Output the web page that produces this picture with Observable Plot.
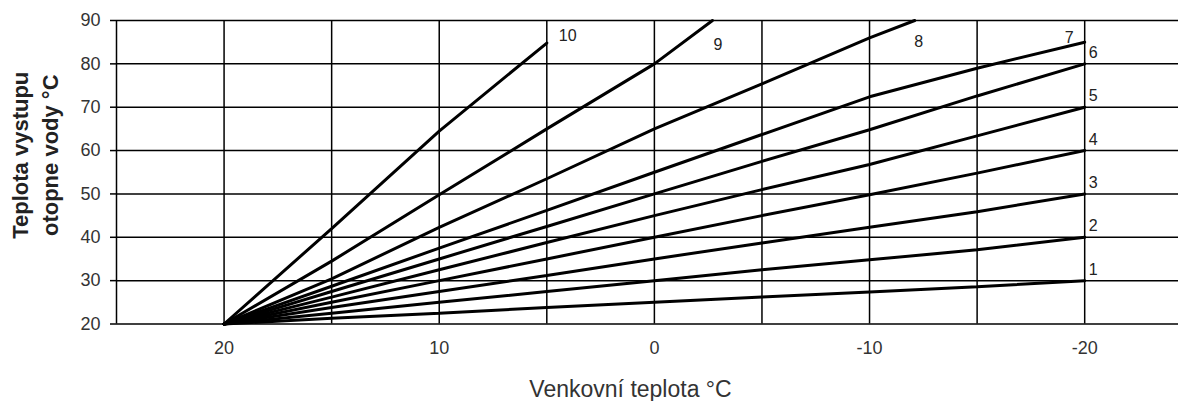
<!DOCTYPE html>
<html><head><meta charset="utf-8">
<script src="https://cdn.jsdelivr.net/npm/d3@7"></script>
<script src="https://cdn.jsdelivr.net/npm/@observablehq/plot@0.6"></script>
<style>body{margin:0;background:#fff} #chart svg{display:block}</style>
</head><body><div id="chart"></div>
<script>
// Data
const outdoorTemps = [20, 15, 10, 5, 0, -5, -10, -15, -20];
const curve1 = [20, 21.3, 22.5, 23.8, 25, 26.2, 27.4, 28.6, 30];
const curve2 = [20, 22.5, 25, 27.5, 30, 32.5, 34.8, 37.1, 40];
const curve3 = [20, 23.8, 27.5, 31.2, 35, 38.7, 42.3, 45.9, 50];
const curve4 = [20, 25, 30, 35, 40, 45, 49.8, 54.8, 60];
const curve5 = [20, 26.2, 32.5, 38.8, 45, 51, 56.8, 63.4, 70];
const curve6 = [20, 27.5, 35, 42.5, 50, 57.5, 64.8, 72.6, 80];
const curve7 = [20, 28.7, 37.5, 46.2, 55, 63.7, 72.4, 79, 85];
const curve8X = [20, 15, 10, 5, 0, -5, -10, -12.1];
const curve8 = [20, 30.4, 42.3, 53.5, 65, 75.4, 86, 90];
const curve9X = [20, 15, 10, 5, 0, -2.7];
const curve9 = [20, 34.5, 49.8, 65, 80, 90];
const curve10X = [20, 15, 10, 5];
const curve10 = [20, 42, 64.5, 84.8];

const xTicks = [20, 10, 0, -10, -20];
const xGrid = [20, 15, 10, 5, 0, -5, -10, -15, -20];
const yTicks = [20, 30, 40, 50, 60, 70, 80, 90];
const xTitle = "Venkovní teplota °C";
const yTitle = "Teplota vystupu\notopne vody °C";

const curves = [
  {id: 1, x: outdoorTemps, y: curve1},
  {id: 2, x: outdoorTemps, y: curve2},
  {id: 3, x: outdoorTemps, y: curve3},
  {id: 4, x: outdoorTemps, y: curve4},
  {id: 5, x: outdoorTemps, y: curve5},
  {id: 6, x: outdoorTemps, y: curve6},
  {id: 7, x: outdoorTemps, y: curve7},
  {id: 8, x: curve8X, y: curve8},
  {id: 9, x: curve9X, y: curve9},
  {id: 10, x: curve10X, y: curve10}
];
const rows = curves.flatMap(c => c.x.map((x, i) => ({curve: c.id, x, y: c.y[i]})));
const ends = curves.map(c => ({curve: c.id, x: c.x[c.x.length - 1], y: c.y[c.y.length - 1]}));

const font = "'Liberation Sans', Arial, Helvetica, sans-serif";

const chart = Plot.plot({
  width: 1178,
  height: 401,
  marginLeft: 116,
  marginRight: 0,
  marginTop: 20,
  marginBottom: 77.5,
  style: {fontFamily: font, background: "#fff", overflow: "visible"},
  x: {domain: [25, -24.36], range: [116, 1178]},
  y: {domain: [20, 90]},
  marks: [
    Plot.gridX(xGrid, {stroke: "#000", strokeOpacity: 1, strokeWidth: 1.5}),
    Plot.gridY(yTicks, {stroke: "#000", strokeOpacity: 1, strokeWidth: 1.5}),
    Plot.ruleX([25], {stroke: "#000", strokeWidth: 1.5}),
    Plot.axisY(yTicks, {tickSize: 6, tickPadding: 10, fontSize: 18, fill: "#333", stroke: "#000", strokeWidth: 1.5, label: null}),
    Plot.axisX(xTicks, {tickSize: 0, tickPadding: 17, fontSize: 18, fill: "#333", tickFormat: d => String(d), label: null}),
    Plot.line(rows, {x: "x", y: "y", z: "curve", stroke: "#000", strokeWidth: 3, strokeLinejoin: "miter"}),
    // curve labels
    Plot.text(ends.filter(d => d.curve <= 6), {x: "x", y: "y", text: d => String(d.curve), textAnchor: "start", dx: 4, dy: -11, fontSize: 16, fill: "#222"}),
    Plot.text(ends.filter(d => d.curve === 7), {x: "x", y: "y", text: d => String(d.curve), textAnchor: "end", dx: -11, dy: -4, fontSize: 16, fill: "#222"}),
    Plot.text(ends.filter(d => d.curve === 8), {x: "x", y: "y", text: d => String(d.curve), textAnchor: "middle", dx: 4, dy: 21, fontSize: 16, fill: "#222"}),
    Plot.text(ends.filter(d => d.curve === 9), {x: "x", y: "y", text: d => String(d.curve), textAnchor: "middle", dx: 5.5, dy: 24, fontSize: 16, fill: "#222"}),
    Plot.text(ends.filter(d => d.curve === 10), {x: "x", y: "y", text: d => String(d.curve), textAnchor: "start", dx: 12, dy: -7, fontSize: 16, fill: "#222"}),
    // axis titles
    Plot.text([xTitle], {frameAnchor: "bottom", text: d => d, textAnchor: "middle", lineAnchor: "bottom", dx: -17, dy: 72.5, fontSize: 23, fill: "#333"}),
    Plot.text([yTitle], {frameAnchor: "left", text: d => d, textAnchor: "middle", rotate: -90, lineAnchor: "middle", lineHeight: 1.36, dx: -83, dy: -17, fontSize: 22, fontWeight: "bold", fill: "#222"})
  ]
});
document.getElementById("chart").append(chart);
</script>
</body></html>
